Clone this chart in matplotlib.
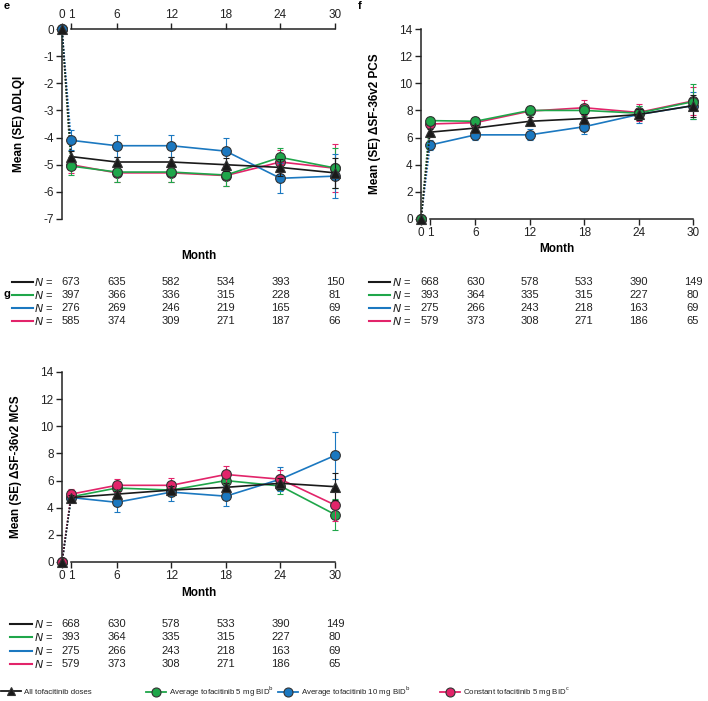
import matplotlib
matplotlib.use('Agg')
import matplotlib.pyplot as plt
import matplotlib.transforms as mtransforms
from matplotlib.lines import Line2D

plt.rcParams['font.family'] = ['Liberation Sans', 'DejaVu Sans']
plt.rcParams['axes.unicode_minus'] = False

# months (visit 0 = baseline)
months = [0, 1, 6, 12, 18, 24, 30]

series_names = ['All tofacitinib doses',
                'Average tofacitinib 5 mg BID$^{\\mathrm{b}}$',
                'Average tofacitinib 10 mg BID$^{\\mathrm{b}}$',
                'Constant tofacitinib 5 mg BID$^{\\mathrm{c}}$']
colors = ['#1a1a1a', '#1fa64a', '#1b78c0', '#e2246a']
markers = ['^', 'o', 'o', 'o']

# panel e: DLQI change
dlqi_all = [0, -4.7, -4.9, -4.9, -5.0, -5.1, -5.3]
dlqi_avg5 = [0, -5.05, -5.27, -5.27, -5.38, -4.73, -5.12]
dlqi_avg10 = [0, -4.1, -4.3, -4.3, -4.5, -5.5, -5.42]
dlqi_const5 = [0, -5.0, -5.3, -5.3, -5.4, -4.9, -5.13]
dlqi_all_se = [0, 0.2, 0.2, 0.2, 0.25, 0.3, 0.55]
dlqi_avg5_se = [0, 0.34, 0.35, 0.38, 0.4, 0.35, 0.75]
dlqi_avg10_se = [0, 0.37, 0.4, 0.4, 0.47, 0.55, 0.8]
dlqi_const5_se = [0, 0.3, 0.33, 0.35, 0.4, 0.45, 0.88]
dlqi_n = [[673, 635, 582, 534, 393, 150],
          [397, 366, 336, 315, 228, 81],
          [276, 269, 246, 219, 165, 69],
          [585, 374, 309, 271, 187, 66]]

# panel f: SF-36v2 PCS change
pcs_all = [0, 6.4, 6.7, 7.2, 7.4, 7.7, 8.35]
pcs_avg5 = [0, 7.25, 7.2, 8.0, 8.0, 7.8, 8.65]
pcs_avg10 = [0, 5.45, 6.2, 6.2, 6.8, 7.7, 8.35]
pcs_const5 = [0, 7.0, 7.1, 7.95, 8.2, 7.85, 8.7]
pcs_all_se = [0, 0.25, 0.25, 0.3, 0.35, 0.4, 0.8]
pcs_avg5_se = [0, 0.25, 0.3, 0.35, 0.4, 0.5, 1.3]
pcs_avg10_se = [0, 0.35, 0.4, 0.4, 0.5, 0.6, 1.0]
pcs_const5_se = [0, 0.25, 0.3, 0.4, 0.55, 0.6, 1.05]
pcs_n = [[668, 630, 578, 533, 390, 149],
         [393, 364, 335, 315, 227, 80],
         [275, 266, 243, 218, 163, 69],
         [579, 373, 308, 271, 186, 65]]

# panel g: SF-36v2 MCS change
mcs_all = [0, 4.75, 5.0, 5.3, 5.5, 5.8, 5.55]
mcs_avg5 = [0, 4.8, 5.45, 5.3, 6.0, 5.6, 3.5]
mcs_avg10 = [0, 4.75, 4.4, 5.15, 4.85, 6.1, 7.85]
mcs_const5 = [0, 5.0, 5.65, 5.65, 6.45, 6.1, 4.2]
mcs_all_se = [0, 0.2, 0.25, 0.3, 0.35, 0.4, 1.0]
mcs_avg5_se = [0, 0.3, 0.4, 0.4, 0.5, 0.6, 1.15]
mcs_avg10_se = [0, 0.3, 0.72, 0.65, 0.75, 0.9, 1.7]
mcs_const5_se = [0, 0.35, 0.5, 0.55, 0.6, 0.65, 1.2]
mcs_n = [[668, 630, 578, 533, 390, 149],
         [393, 364, 335, 315, 227, 80],
         [275, 266, 243, 218, 163, 69],
         [579, 373, 308, 271, 186, 65]]

W, H = 708, 701
fig = plt.figure(figsize=(W / 100, H / 100), dpi=100)


def fx(px):
    return px / W


def fy(py):
    return 1 - py / H


def draw_panel(ax, values, errors, ylim, yticks, ylabel, top_axis, order):
    for k, i in enumerate(order):
        y = values[i]
        e = errors[i]
        c = colors[i]
        ms = 7 if markers[i] == 'o' else 6.5
        # dotted segment baseline -> month 1
        ax.plot(months[:2], y[:2], linestyle=(0, (1, 1)), color=c, lw=1.2,
                zorder=2 + k, clip_on=False)
        ax.errorbar(months[1:], y[1:], yerr=e[1:], color=c, lw=1.2,
                    elinewidth=0.8, capsize=2.5, capthick=0.8,
                    marker=markers[i], ms=ms,
                    mfc=c, mec='#333333', mew=0.8, zorder=3 + k, clip_on=False)
        ax.plot(months[0], y[0], marker=markers[i], color=c, ms=ms,
                mec='#333333', mew=0.8, zorder=3 + k, clip_on=False)
    ax.set_xlim(0, 30)
    ax.set_ylim(*ylim)
    ax.set_yticks(yticks)
    ax.set_yticklabels([str(t) for t in yticks])
    ax.set_xticks([0, 1, 6, 12, 18, 24, 30])
    ax.spines['right'].set_visible(False)
    if top_axis:
        ax.spines['bottom'].set_visible(False)
        ax.spines['top'].set_bounds(1, 30)
        ax.xaxis.tick_top()
        ax.xaxis.set_label_position('bottom')
        ax.set_xlabel('Month', fontsize=8.5, fontweight='bold', labelpad=22)
    else:
        ax.spines['top'].set_visible(False)
        ax.spines['bottom'].set_bounds(1, 30)
        ax.set_xlabel('Month', fontsize=8.5, fontweight='bold', labelpad=3)
    for s in ['left', 'top', 'bottom']:
        ax.spines[s].set_linewidth(1.1)
        ax.spines[s].set_color('#222222')
    ax.tick_params(axis='both', direction='out', length=4, width=1.0,
                   labelsize=8.5, pad=2, color='#222222', labelcolor='#222222')
    ax.set_ylabel(ylabel, fontsize=8.5, fontweight='bold', labelpad=13)


def draw_ntable(ax, counts, row_y, line_x, n_x):
    trans = mtransforms.blended_transform_factory(ax.transData, fig.transFigure)
    for i, row in enumerate(counts):
        yy = fy(row_y[i])
        fig.add_artist(Line2D([fx(line_x[0]), fx(line_x[1])], [yy, yy],
                              color=colors[i], lw=1.5))
        fig.text(fx(n_x), yy, '$N$ =', fontsize=8, va='center', ha='left',
                 color='#222222')
        for m, n in zip(months[1:], row):
            ax.text(m, yy, str(n), transform=trans, fontsize=8,
                    ha='center', va='center', color='#222222')


# panel e
ax_e = fig.add_axes([fx(62), fy(219), fx(273), 190 / H])
draw_panel(ax_e, [dlqi_all, dlqi_avg5, dlqi_avg10, dlqi_const5],
           [dlqi_all_se, dlqi_avg5_se, dlqi_avg10_se, dlqi_const5_se],
           (-7, 0), [0, -1, -2, -3, -4, -5, -6, -7], 'Mean (SE) ΔDLQI', True,
           [3, 1, 2, 0])
draw_ntable(ax_e, dlqi_n, [282, 295, 308, 321], (12, 33), 34)

# panel f
ax_f = fig.add_axes([fx(421), fy(219), fx(272), 190 / H])
draw_panel(ax_f, [pcs_all, pcs_avg5, pcs_avg10, pcs_const5],
           [pcs_all_se, pcs_avg5_se, pcs_avg10_se, pcs_const5_se],
           (0, 14), [0, 2, 4, 6, 8, 10, 12, 14], 'Mean (SE) ΔSF-36v2 PCS', False,
           [2, 3, 1, 0])
draw_ntable(ax_f, pcs_n, [282, 295, 308, 321], (369, 390), 392)

# panel g
ax_g = fig.add_axes([fx(62), fy(562), fx(273), 190 / H])
draw_panel(ax_g, [mcs_all, mcs_avg5, mcs_avg10, mcs_const5],
           [mcs_all_se, mcs_avg5_se, mcs_avg10_se, mcs_const5_se],
           (0, 14), [0, 2, 4, 6, 8, 10, 12, 14], 'Mean (SE) ΔSF-36v2 MCS', False,
           [1, 2, 3, 0])
draw_ntable(ax_g, mcs_n, [624, 637, 651, 664], (10, 32), 34)

# panel letters
fig.text(fx(4), fy(6), 'e', fontsize=8, fontweight='bold', va='center')
fig.text(fx(358), fy(6), 'f', fontsize=8, fontweight='bold', va='center')
fig.text(fx(4), fy(294), 'g', fontsize=8, fontweight='bold', va='center')

# legend entries along the bottom
legend_x = [1, 146, 278, 440]
for i in range(4):
    h = Line2D([], [], color=colors[i], lw=1.3, marker=markers[i],
               ms=6.5 if markers[i] == 'o' else 6, mfc=colors[i],
               mec='#333333', mew=0.8)
    fig.legend(handles=[h], labels=[series_names[i]], loc='center left',
               bbox_to_anchor=(fx(legend_x[i]), fy(692)), frameon=False,
               fontsize=5.7, handlelength=2.5, handletextpad=0.4,
               borderpad=0, borderaxespad=0, labelcolor='#222222')

plt.savefig('out.png', dpi=100)
